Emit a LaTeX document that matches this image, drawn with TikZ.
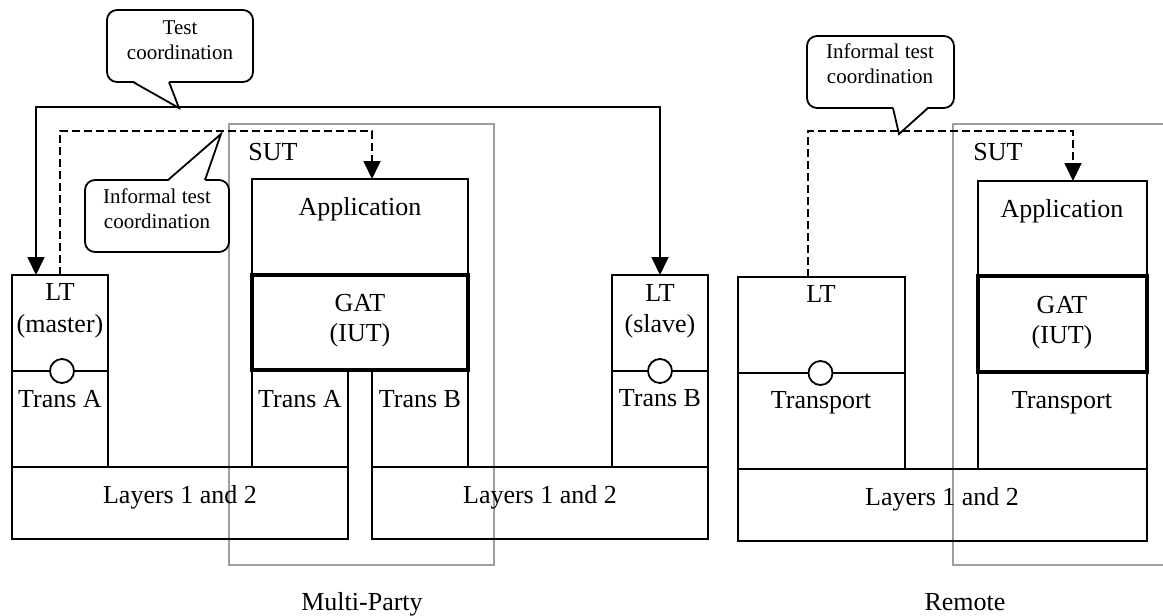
\documentclass[tikz,border=0pt]{standalone}
\usepackage{fontspec}
\setmainfont{Liberation Serif}
\usetikzlibrary{arrows.meta,calc}
\begin{document}
\begin{tikzpicture}[x=1pt,y=-1pt,
  ln/.style={line width=1.8pt},
  blk/.style={draw, ln, anchor=north west, inner sep=0pt, outer sep=0pt},
  gatbox/.style={draw, line width=3.5pt, anchor=north west, inner sep=0pt, outer sep=0pt},
  sutbox/.style={draw=black!38, line width=1.5pt, anchor=north west, inner sep=0pt, outer sep=0pt},
  lbl/.style={font=\fontsize{26}{32}\selectfont, inner sep=0pt, anchor=base},
  clbl/.style={font=\fontsize{21}{25}\selectfont, inner sep=0pt, anchor=base},
  callout/.style={draw, ln, fill=white, rounded corners=10pt, anchor=north west, inner sep=0pt, outer sep=0pt},
  tip/.style={Triangle[length=18pt,width=17pt]},
  arr/.style={ln, -{Triangle[length=18pt,width=17pt]}},
  arrtwo/.style={ln, {Triangle[length=18pt,width=17pt]}-{Triangle[length=18pt,width=17pt]}},
  darr/.style={arr, dash pattern=on 8pt off 4pt},
  port/.style={circle, draw, ln, fill=white, minimum size=24pt, inner sep=0pt},
]
\useasboundingbox (0,0) rectangle (1163,616);

% SUT frames
\node[sutbox, minimum width=265pt, minimum height=441pt] (sut1) at (229,124) {};
\begin{scope}
\clip (0,0) rectangle (1163,616);
\node[sutbox, minimum width=240pt, minimum height=441pt] (sut2) at (953,124) {};
\end{scope}

% Multi-party: LT master
\node[blk, minimum width=96pt, minimum height=96pt] (ltm) at (12,275) {};
\node[blk, minimum width=96pt, minimum height=96pt] (ltmt) at (12,371) {};
\node[blk, minimum width=336pt, minimum height=72pt] (lay1) at (12,467) {};
% SUT stack
\node[blk, minimum width=216pt, minimum height=96pt] (app1) at (252,179) {};
\node[blk, minimum width=96pt, minimum height=97pt] (ta1) at (252,370) {};
\node[blk, minimum width=96pt, minimum height=97pt] (tb1) at (372,370) {};
\node[gatbox, minimum width=216pt, minimum height=95pt] (gat1) at (252,275) {};
\node[blk, minimum width=336pt, minimum height=72pt] (lay2) at (372,467) {};
% LT slave
\node[blk, minimum width=96pt, minimum height=96pt] (lts) at (612,275) {};
\node[blk, minimum width=96pt, minimum height=96pt] (ltst) at (612,371) {};

% Remote
\node[blk, minimum width=167pt, minimum height=96pt] (ltr) at (738,277) {};
\node[blk, minimum width=167pt, minimum height=96pt] (ltrt) at (738,373) {};
\node[blk, minimum width=169pt, minimum height=95pt] (rapp) at (978,181) {};
\node[blk, minimum width=169pt, minimum height=97pt] (rtr) at (978,372) {};
\node[gatbox, minimum width=169pt, minimum height=96pt] (rgat) at (978,276) {};
\node[blk, minimum width=409pt, minimum height=72pt] (rlay) at (738,469) {};

% ports
\node[port] (p1) at ($(ltm.south)+(2,0)$) {};
\node[port] (p2) at (lts.south) {};
\node[port] (p3) at ($(ltr.south)+(-1,0)$) {};

% connectors
\draw[arrtwo] ($(ltm.north west)+(24,0)$) -- ++(0,-168) -| (lts.north);
\draw[darr] (ltm.north) -- ++(0,-144) -| ($(app1.north west)+(120,0)$);
\draw[darr] ($(ltr.north west)+(70,0)$) -- ++(0,-146) -| ($(rapp.north west)+(95,0)$);

% callouts
\node[callout, minimum width=146pt, minimum height=72pt] (tc) at (107,10) {};
\fill[white] ($(tc.south west)+(26,-1.5)$) -- ($(tc.south west)+(72,26)$) -- ($(tc.south west)+(62,-1.5)$) -- cycle;
\draw[ln, line join=miter] ($(tc.south west)+(26,0)$) -- ($(tc.south west)+(72,26)$) -- ($(tc.south west)+(62,0)$);

\node[callout, minimum width=144pt, minimum height=72pt] (ic1) at (85,180) {};
\fill[white] ($(ic1.north west)+(83,1.5)$) -- ($(ic1.north west)+(136,-46)$) -- ($(ic1.north west)+(120,1.5)$) -- cycle;
\draw[ln, line join=miter] ($(ic1.north west)+(83,0)$) -- ($(ic1.north west)+(136,-46)$) -- ($(ic1.north west)+(120,0)$);

\node[callout, minimum width=147pt, minimum height=72pt] (ic2) at (807,36) {};
\fill[white] ($(ic2.south west)+(86,-1.5)$) -- ($(ic2.south west)+(92,26)$) -- ($(ic2.south west)+(121,-1.5)$) -- cycle;
\draw[ln, line join=miter] ($(ic2.south west)+(86,0)$) -- ($(ic2.south west)+(92,26)$) -- ($(ic2.south west)+(121,0)$);

% texts
\node[clbl] (tct1) at (180,34) {Test};
\node[clbl] (tct2) at (180,59) {coordination};
\node[clbl] (ic1a) at (157,203) {Informal test};
\node[clbl] (ic1b) at (157,228) {coordination};
\node[clbl] (ic2a) at (880,58) {Informal test};
\node[clbl] (ic2b) at (880,83) {coordination};

\node[lbl] (sutl1) at (273,160) {SUT};
\node[lbl] (sutl2) at (998,160) {SUT};

\node[lbl] (ltm1) at (60,300) {LT};
\node[lbl] (ltm2) at (60,332) {(master)};
\node[lbl] (ltm3) at (60,407) {Trans A};

\node[lbl] (app1t) at (360,215) {Application};
\node[lbl] (gat1a) at (360,311) {GAT};
\node[lbl] (gat1b) at (360,341) {(IUT)};
\node[lbl] (ta1t) at (300,407) {Trans A};
\node[lbl] (tb1t) at (420,407) {Trans B};
\node[lbl] (lay1t) at (180,503) {Layers 1 and 2};
\node[lbl] (lay2t) at (540,503) {Layers 1 and 2};

\node[lbl] (lts1) at (660,301) {LT};
\node[lbl] (lts2) at (660,332) {(slave)};
\node[lbl] (lts3) at (660,406) {Trans B};

\node[lbl] (ltr1) at (821,302) {LT};
\node[lbl] (ltr2) at (821,408) {Transport};
\node[lbl] (rappt) at (1062,217) {Application};
\node[lbl] (rgata) at (1062,313) {GAT};
\node[lbl] (rgatb) at (1062,343) {(IUT)};
\node[lbl] (rtrt) at (1062,408) {Transport};
\node[lbl] (rlayt) at (942,505) {Layers 1 and 2};

\node[lbl] (mp) at (362,610) {Multi-Party};
\node[lbl] (rm) at (965,610) {Remote};
\end{tikzpicture}
\end{document}
